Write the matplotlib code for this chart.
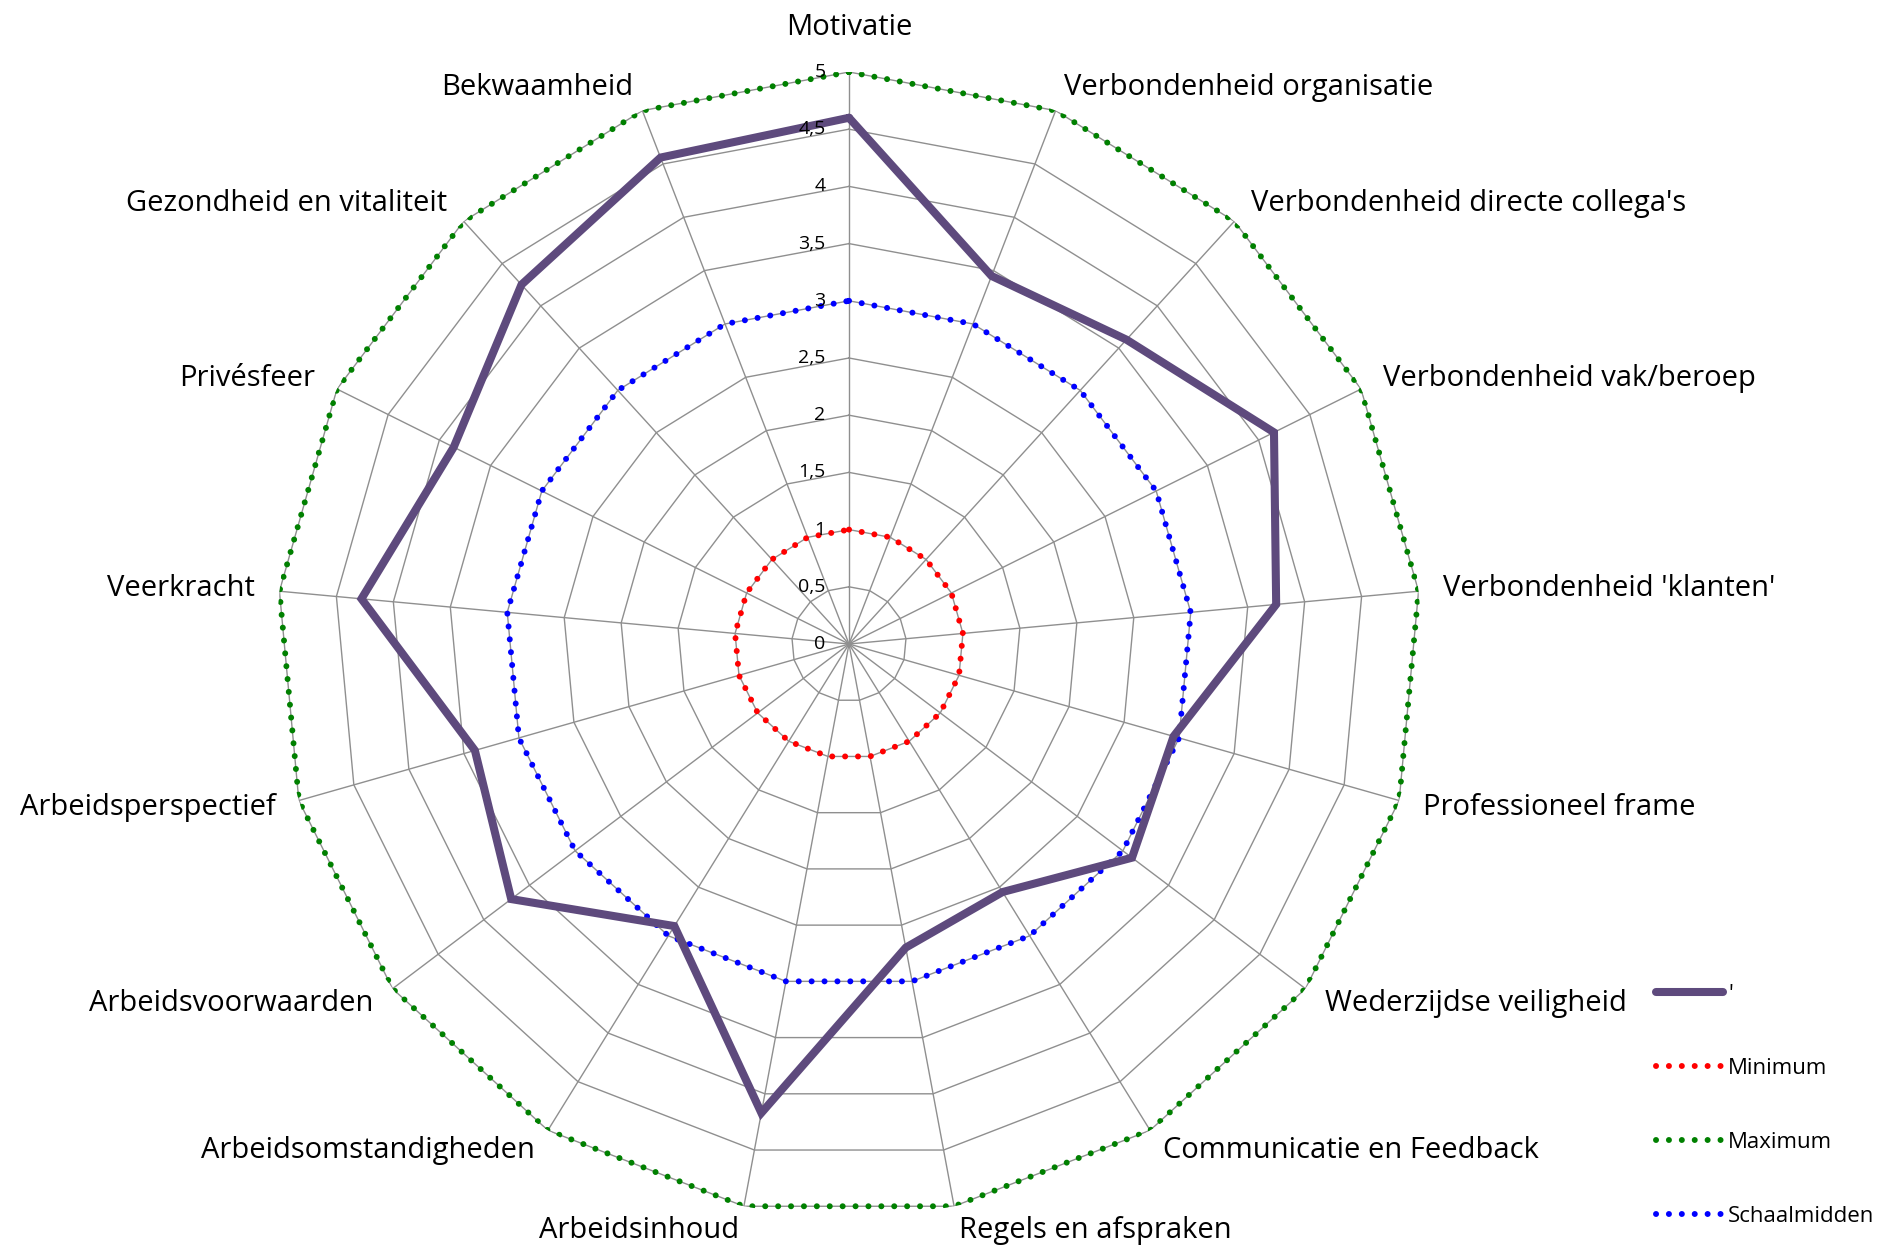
import numpy as np
import matplotlib
matplotlib.use('Agg')
import matplotlib.pyplot as plt

plt.rcParams['font.family'] = ['Open Sans', 'DejaVu Sans']

categories = ['Motivatie', 'Verbondenheid organisatie', "Verbondenheid directe collega's",
              'Verbondenheid vak/beroep', "Verbondenheid 'klanten'", 'Professioneel frame',
              'Wederzijdse veiligheid', 'Communicatie en Feedback', 'Regels en afspraken',
              'Arbeidsinhoud', 'Arbeidsomstandigheden', 'Arbeidsvoorwaarden',
              'Arbeidsperspectief', 'Veerkracht', 'Privésfeer', 'Gezondheid en vitaliteit',
              'Bekwaamheid']
scores = [4.6, 3.45, 3.6, 4.15, 3.75, 2.95, 3.1, 2.55, 2.7, 4.17, 2.9, 3.7, 3.4, 4.28, 3.86, 4.25, 4.56]
minimum = [1, 1, 1, 1, 1, 1, 1, 1, 1, 1, 1, 1, 1, 1, 1, 1, 1]
maximum = [5, 5, 5, 5, 5, 5, 5, 5, 5, 5, 5, 5, 5, 5, 5, 5, 5]
schaalmidden = [3, 3, 3, 3, 3, 3, 3, 3, 3, 3, 3, 3, 3, 3, 3, 3, 3]
ticks = [0, 0.5, 1, 1.5, 2, 2.5, 3, 3.5, 4, 4.5, 5]
tick_labels = ['0', '0,5', '1', '1,5', '2', '2,5', '3', '3,5', '4', '4,5', '5']

n = len(categories)
theta = np.arange(n) * 2 * np.pi / n
theta_c = np.append(theta, theta[0])


def closed(v):
    return list(v) + [v[0]]


W, H = 1878, 1251
fig = plt.figure(figsize=(W / 100, H / 100), dpi=100)
cx, cy, R = 849, 644, 572
ax = fig.add_axes([(cx - R) / W, (H - cy - R) / H, 2 * R / W, 2 * R / H], projection='polar')
ax.set_theta_zero_location('N')
ax.set_theta_direction(-1)
ax.set_ylim(0, 5)
ax.grid(False)
ax.set_xticks([])
ax.set_yticks([])
ax.spines['polar'].set_visible(False)

grid_col = '#8f8f8f'
for t in ticks[1:]:
    ax.plot(theta_c, [t] * (n + 1), color=grid_col, lw=1.0, zorder=1)
for th in theta:
    ax.plot([th, th], [0, 5], color=grid_col, lw=1.0, zorder=1)

dots = dict(lw=4.3, linestyle=(0, (0.01, 2.15)), dash_capstyle='round', zorder=2)
ax.plot(theta_c, closed(scores), color='#5e4a7d', lw=5.8, solid_joinstyle='miter',
        solid_capstyle='round', zorder=3, label="'")
ax.plot(theta_c, closed(minimum), color='#ff0000', label='Minimum', **dots)
ax.plot(theta_c, closed(maximum), color='#008000', label='Maximum', **dots)
ax.plot(theta_c, closed(schaalmidden), color='#0000ff', label='Schaalmidden', **dots)

for t, lab in zip(ticks, tick_labels):
    ax.annotate(lab, xy=(0, t), xytext=(-17, 0), textcoords='offset points',
                ha='right', va='center', fontsize=14, zorder=4)

for th, lab in zip(theta, categories):
    s, c = np.sin(th), np.cos(th)
    d = 32 if abs(s) < 0.01 else 17.5
    if abs(s) < 0.01:
        ha = 'center'
    elif s > 0:
        ha = 'left'
    else:
        ha = 'right'
    ax.annotate(lab, xy=(th, 5), xytext=(d * s, d * c), textcoords='offset points',
                ha=ha, va='center', fontsize=21, annotation_clip=False)

fig.legend(loc='upper left', bbox_to_anchor=(1656 / W, 1 - 984 / H), frameon=False,
           fontsize=16, handlelength=3.0, handletextpad=0.25, labelspacing=2.38,
           borderpad=0, borderaxespad=0)

fig.savefig('out.png', dpi=100, facecolor='white')
